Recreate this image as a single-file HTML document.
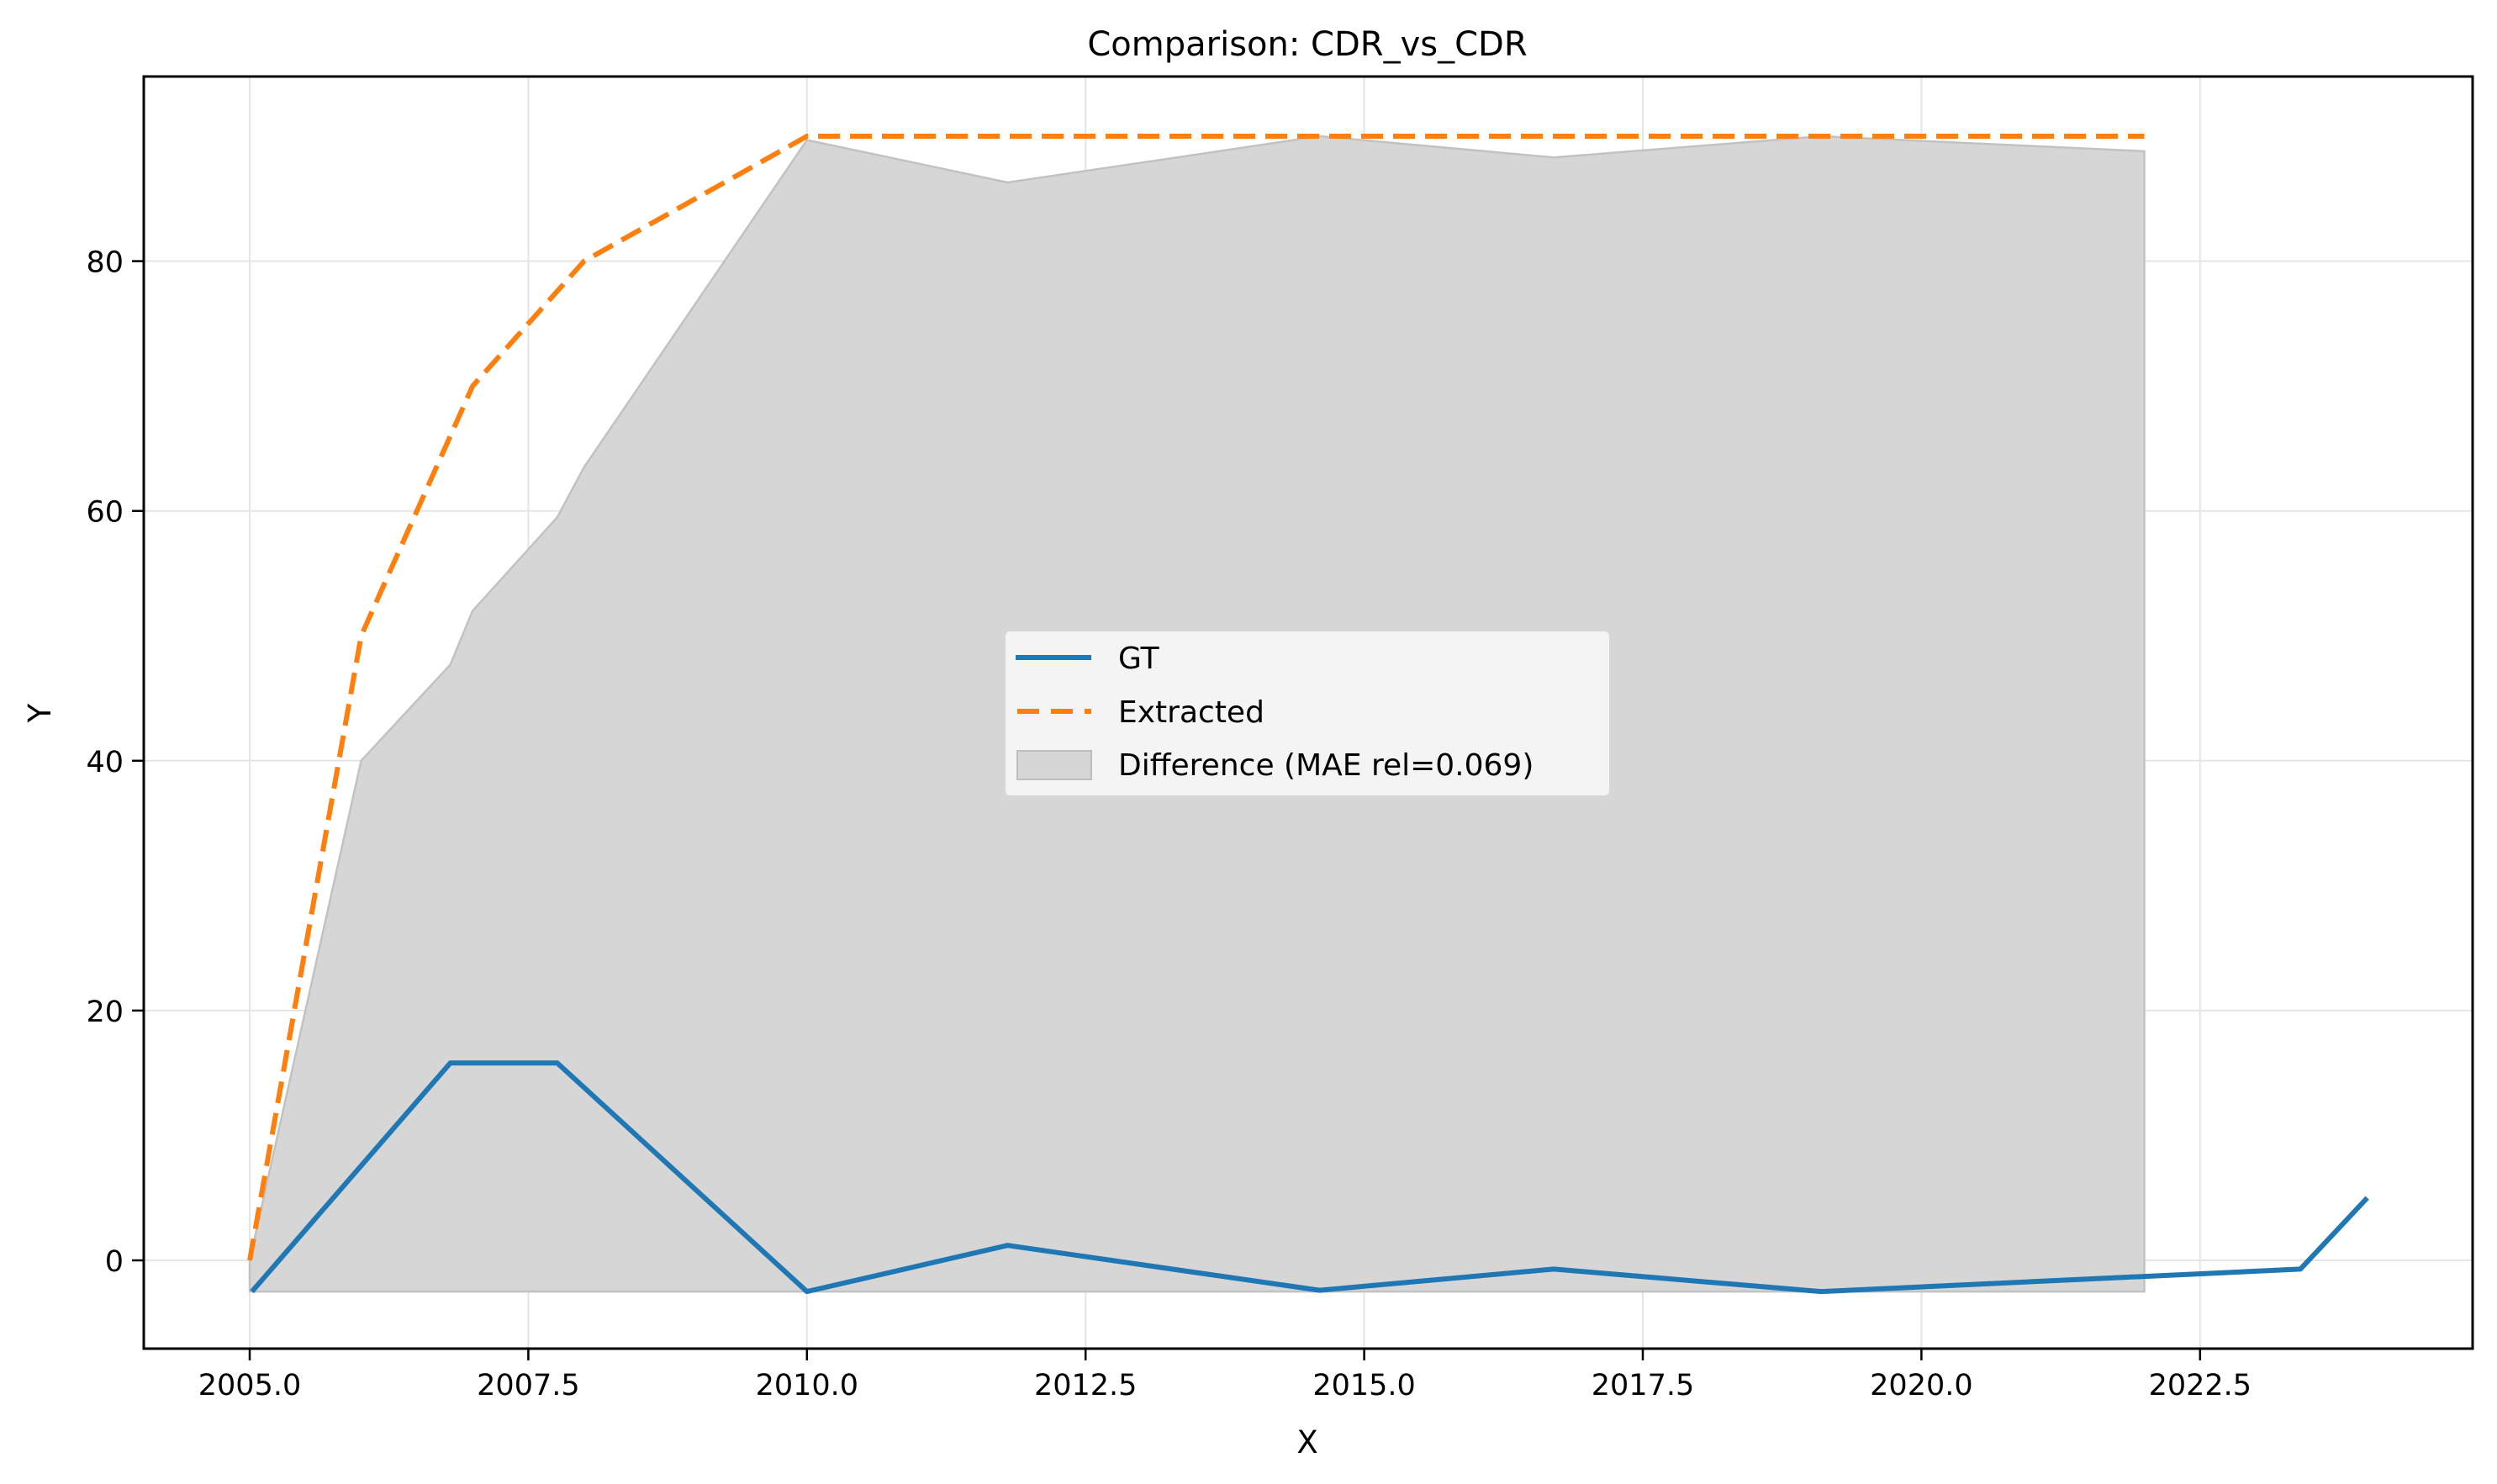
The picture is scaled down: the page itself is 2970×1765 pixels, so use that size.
<!DOCTYPE html>
<html><head><meta charset="utf-8"><style>html,body{margin:0;padding:0;background:#fff}svg{display:block;font-family:"DejaVu Sans","Liberation Sans",sans-serif}</style></head>
<body>
<svg id="chart" width="2970" height="1765" viewBox="0 0 2970 1765" xmlns="http://www.w3.org/2000/svg">
<rect width="2970" height="1765" fill="#fff"/>
<g id="grid"></g>
<g id="fill"></g>
<g id="lines"></g>
<g id="axes"></g>
<text x="1555" y="66" font-size="40" text-anchor="middle">Comparison: CDR_vs_CDR</text>
<text x="1555" y="1728" font-size="37" text-anchor="middle">X</text>
<text x="60" y="848" font-size="37" text-anchor="middle" transform="rotate(-90 60 848)">Y</text>
<g>
<rect x="1195" y="750" width="720" height="197" rx="6" fill="#f7f7f7" fill-opacity="0.9" stroke="#d6d6d6" stroke-width="2"/>
<line x1="1208" y1="782" x2="1298" y2="782" stroke="#1f77b4" stroke-width="6"/>
<text x="1330" y="795" font-size="36">GT</text>
<line x1="1210" y1="846" x2="1298" y2="846" stroke="#ff7f0e" stroke-width="6" stroke-dasharray="26,14"/>
<text x="1330" y="859" font-size="36">Extracted</text>
<rect x="1210" y="893" width="88" height="34" fill="#d6d6d6" stroke="#bdbdbd" stroke-width="2"/>
<text x="1330" y="922" font-size="36">Difference (MAE rel=0.069)</text>
</g>
</svg>
<script>
const gtX = [2005.02, 2006.8, 2007.76, 2010.0, 2011.8, 2014.6, 2016.7, 2019.1, 2023.4, 2024.0];
const gtY = [-2.5, 15.8, 15.8, -2.5, 1.2, -2.4, -0.7, -2.5, -0.7, 5.0];
const exX = [2005, 2006, 2007, 2008, 2010, 2012, 2014, 2016, 2018, 2020, 2022];
const exY = [0, 50, 70, 80, 90, 90, 90, 90, 90, 90, 90];
const fillX = [2005.0, 2006.0, 2006.8, 2007.0, 2007.76, 2008.0, 2010.0, 2011.8, 2014.6, 2016.7, 2019.1, 2022.0];
const fillTop = [0, 40, 47.7, 52, 59.5, 63.5, 89.7, 86.3, 90, 88.3, 90, 88.8];
const fillBottom = -2.5;
const xTicks = [2005, 2007.5, 2010, 2012.5, 2015, 2017.5, 2020, 2022.5];
const xTickLabels = ["2005.0","2007.5","2010.0","2012.5","2015.0","2017.5","2020.0","2022.5"];
const yTicks = [0, 20, 40, 60, 80];
const yTickLabels = ["0","20","40","60","80"];

const L=171,R=2941,T=91,B=1604;
const sx=v=>297+(v-2005)*132.56;
const sy=v=>1499-v*14.855;
const NS="http://www.w3.org/2000/svg";
function mk(tag,attrs,parent){const e=document.createElementNS(NS,tag);for(const k in attrs)e.setAttribute(k,attrs[k]);parent.appendChild(e);return e;}
const grid=document.getElementById('grid'),axes=document.getElementById('axes'),lines=document.getElementById('lines'),fillG=document.getElementById('fill');
xTicks.forEach((t,i)=>{
  const g=mk('line',{x1:sx(t),x2:sx(t),y1:T,y2:B,stroke:'#e5e5e5','stroke-width':2},grid);
  
  
  const tk=mk('line',{x1:sx(t),x2:sx(t),y1:B,y2:B+14,stroke:'#000','stroke-width':2.5},axes);
  
  
  const lb=mk('text',{x:sx(t),y:B+55,'font-size':35,'text-anchor':'middle'},axes);
  lb.textContent=xTickLabels[i];
  
  
});
yTicks.forEach((t,i)=>{
  const g=mk('line',{x1:L,x2:R,y1:sy(t),y2:sy(t),stroke:'#e5e5e5','stroke-width':2},grid);
  
  
  const tk=mk('line',{x1:L-14,x2:L,y1:sy(t),y2:sy(t),stroke:'#000','stroke-width':2.5},axes);
  
  
  const lb=mk('text',{x:L-24,y:sy(t)+13,'font-size':35,'text-anchor':'end'},axes);
  lb.textContent=yTickLabels[i];
  
  
});
let pts=fillX.map((x,i)=>sx(x)+','+sy(fillTop[i]));
pts.push(sx(fillX[fillX.length-1])+','+sy(fillBottom));
pts.push(sx(fillX[0])+','+sy(fillBottom));
const poly=mk('polygon',{points:pts.join(' '),fill:'#d6d6d6',stroke:'#c2c2c2','stroke-width':2.5},fillG);


const gl=mk('polyline',{points:gtX.map((x,i)=>sx(x)+','+sy(gtY[i])).join(' '),fill:'none',stroke:'#1f77b4','stroke-width':6,'stroke-linejoin':'round'},lines);


const el=mk('polyline',{points:exX.map((x,i)=>sx(x)+','+sy(exY[i])).join(' '),fill:'none',stroke:'#ff7f0e','stroke-width':6,'stroke-dasharray':'26,12'},lines);


const fr=mk('rect',{x:L,y:T,width:R-L,height:B-T,fill:'none',stroke:'#000','stroke-width':3},axes);


</script>
</body></html>
